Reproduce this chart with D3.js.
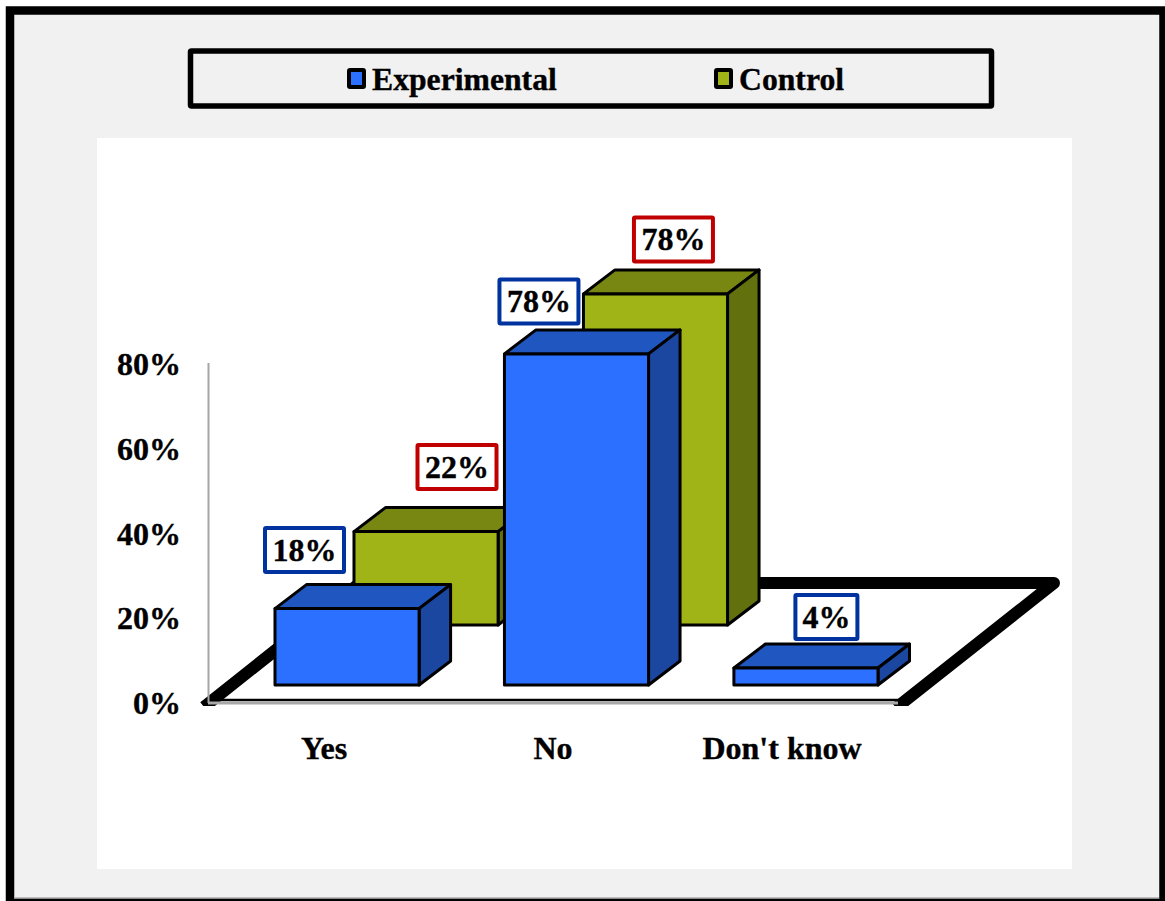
<!DOCTYPE html>
<html>
<head>
<meta charset="utf-8">
<script src="https://cdn.jsdelivr.net/npm/d3@7/dist/d3.min.js"></script>
<style>
html,body{margin:0;padding:0;background:#fff;overflow:hidden}
text{font-family:"Liberation Serif",serif;font-weight:bold;fill:#000;stroke:#000;stroke-width:0.35}
</style>
</head>
<body>
<svg id="chart" width="1165" height="901"></svg>
<script>
// Survey responses, percent of each group
const categories = ["Yes", "No", "Don't know"];
const experimental = [18, 78, 4];
const control = [22, 78, null];
const yTicks = [0, 20, 40, 60, 80];
const seriesNames = ["Experimental", "Control"];

const svg = d3.select("#chart");

// Projection of the pseudo-3D box: each series sits on its own floor row
const depth = {dx: 31.5, dy: -24};
const x = d3.scaleBand().domain(categories).range([275, 878]).paddingInner(0.372).paddingOuter(0);
const axisY = d3.scaleLinear().domain([0, 80]).range([703, 364]);
const heightOf = d3.scaleLinear().domain([0, 100]).range([0, 424.5]);

const palette = {
  Experimental: {front: "#2b70ff", top: "#2056c0", side: "#1c47a0", label: "#00339f"},
  Control: {front: "#a0b418", top: "#788612", side: "#62700e", label: "#c00000"}
};
const rows = {
  Control: {values: control, dx: 79, base: 625},
  Experimental: {values: experimental, dx: 0, base: 685}
};

// Panel backgrounds and outer frame
svg.append("rect").attr("width", 1165).attr("height", 901).attr("fill", "#fff");
svg.append("rect").attr("x", 10).attr("y", 10.5).attr("width", 1153.5).attr("height", 892.5)
  .attr("fill", "#f1f1f1").attr("stroke", "#000").attr("stroke-width", 8.5);
svg.append("rect").attr("x", 14.5).attr("y", 897.5).attr("width", 1144.5).attr("height", 1.5).attr("fill", "#8c8c8c");
svg.append("rect").attr("x", 97).attr("y", 138).attr("width", 975).attr("height", 731).attr("fill", "#fff");

// Legend
svg.append("rect").attr("x", 190.5).attr("y", 51).attr("width", 801).attr("height", 55)
  .attr("rx", 1).attr("fill", "#f1f1f1").attr("stroke", "#000").attr("stroke-width", 5.5);
const legendX = d3.scaleOrdinal().domain(seriesNames).range([347, 714]);
const legend = svg.append("g").selectAll("g").data(seriesNames).join("g")
  .attr("transform", d => `translate(${legendX(d)},0)`);
legend.append("rect").attr("x", 2).attr("y", 70).attr("width", 15).attr("height", 17).attr("rx", 1)
  .attr("fill", d => palette[d].front).attr("stroke", "#000").attr("stroke-width", 4);
legend.append("text").attr("x", 25).attr("y", 90).attr("font-size", 31.7).text(d => d);

// Floor parallelogram with its heavy back and side edges
const floor = svg.append("g");
svg.append("clipPath").attr("id", "floorClip").append("rect")
  .attr("x", 200).attr("y", 560).attr("width", 880).attr("height", 146);
floor.append("polygon").attr("points", "212,699 360,583 1054,583 903,699").attr("fill", "#fff");
floor.append("path").attr("clip-path", "url(#floorClip)")
  .attr("d", "M204,707 L360,583 L1054,583 L896,708")
  .attr("fill", "none").attr("stroke", "#000").attr("stroke-width", 12)
  .attr("stroke-linejoin", "round").attr("stroke-linecap", "butt");
floor.append("line").attr("x1", 205).attr("x2", 898).attr("y1", 700).attr("y2", 700)
  .attr("stroke", "#000").attr("stroke-width", 2.5);
floor.append("line").attr("x1", 208).attr("x2", 898).attr("y1", 703).attr("y2", 703)
  .attr("stroke", "#a8a8a8").attr("stroke-width", 3);
floor.append("line").attr("x1", 205).attr("x2", 205).attr("y1", 700).attr("y2", 706)
  .attr("stroke", "#000").attr("stroke-width", 1);

// Vertical axis line and tick labels
svg.append("line").attr("x1", 208.5).attr("x2", 208.5).attr("y1", axisY(80) - 1).attr("y2", axisY(0))
  .attr("stroke", "#a6a6a6").attr("stroke-width", 2);
svg.append("g").selectAll("text").data(yTicks).join("text")
  .attr("x", 181).attr("y", d => axisY(d) + 11).attr("text-anchor", "end").attr("font-size", 32)
  .text(d => d + "%");

// Category labels
const labelX = d3.scaleOrdinal().domain(categories).range([324, 553, 782]);
svg.append("g").selectAll("text").data(categories).join("text")
  .attr("x", d => labelX(d)).attr("y", 759).attr("text-anchor", "middle").attr("font-size", 32)
  .text(d => d);

// Draw one box: top, side, front faces
function drawBoxes(name) {
  const row = rows[name], c = palette[name];
  const data = categories.map((k, i) => ({k, v: row.values[i]})).filter(d => d.v != null);
  const g = svg.append("g").attr("stroke", "#000").attr("stroke-width", 3).attr("stroke-linejoin", "round");
  const box = g.selectAll("g").data(data).join("g");
  const left = d => x(d.k) + row.dx;
  const right = d => left(d) + x.bandwidth();
  const top = d => row.base - heightOf(d.v);
  box.append("polygon").attr("fill", c.top).attr("points", d =>
    [[left(d), top(d)], [left(d) + depth.dx, top(d) + depth.dy],
     [right(d) + depth.dx, top(d) + depth.dy], [right(d), top(d)]].join(" "));
  box.append("polygon").attr("fill", c.side).attr("points", d =>
    [[right(d), top(d)], [right(d) + depth.dx, top(d) + depth.dy],
     [right(d) + depth.dx, row.base + depth.dy], [right(d), row.base]].join(" "));
  box.append("rect").attr("fill", c.front)
    .attr("x", left).attr("y", top).attr("width", x.bandwidth()).attr("height", d => heightOf(d.v));
}
drawBoxes("Control");
drawBoxes("Experimental");

// Boxed value labels, each nudged clear of the neighbouring bars
const labelNudge = {
  "Experimental|Yes": [29.5, -59], "Experimental|No": [34.5, -53], "Experimental|Don't know": [92.5, -51.5],
  "Control|Yes": [103, -65], "Control|No": [90, -55]
};
["Control", "Experimental"].forEach(name => {
  const row = rows[name], c = palette[name];
  const data = categories.map((k, i) => ({k, v: row.values[i]})).filter(d => d.v != null);
  const lab = svg.append("g").selectAll("g").data(data).join("g")
    .attr("transform", d => {
      const n = labelNudge[name + "|" + d.k];
      return `translate(${x(d.k) + row.dx + n[0]},${row.base - heightOf(d.v) + n[1]})`;
    });
  lab.append("rect")
    .attr("x", d => d.v < 10 ? -31 : -39.5).attr("y", -21.5)
    .attr("width", d => d.v < 10 ? 62 : 79).attr("height", 44).attr("rx", 1)
    .attr("fill", "#fff").attr("stroke", c.label).attr("stroke-width", 4);
  lab.append("text").attr("y", 11).attr("text-anchor", "middle").attr("font-size", 32)
    .text(d => d.v + "%");
});
</script>
</body>
</html>
